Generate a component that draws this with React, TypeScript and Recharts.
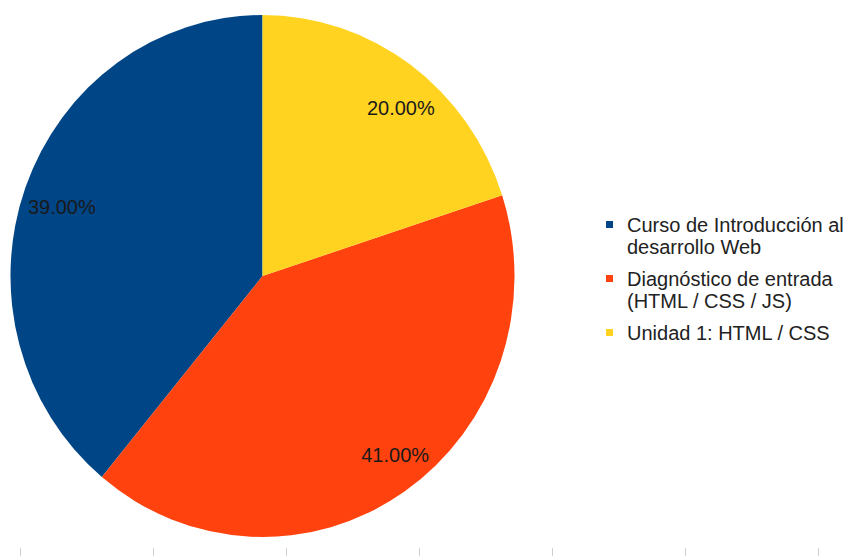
import React from 'react';
import { PieChart, Pie, Cell, Legend } from 'recharts';

// slice data
const categories = [
  'Curso de Introducción al\ndesarrollo Web',
  'Diagnóstico de entrada\n(HTML / CSS / JS)',
  'Unidad 1: HTML / CSS',
];
const values = [39, 41, 20];
const colors = ['#004586', '#ff420e', '#ffd320'];

const data = categories.map((name, i) => ({ name, value: values[i] }));

const FONT = '"Liberation Sans", Arial, sans-serif';
const Y_STRETCH = 1.0357; // the original pie is a touch taller than wide
const RAD = Math.PI / 180;

const renderLabel = (props: any) => {
  const { cx, cy, outerRadius, midAngle, percent } = props;
  const x = cx + outerRadius * 0.88 * Math.cos(-midAngle * RAD) + 8;
  const y = cy + outerRadius * 0.812 * Math.sin(-midAngle * RAD) + 3;
  return (
    <text
      x={x}
      y={y}
      textAnchor="middle"
      dominantBaseline="central"
      fill="#1a1a1a"
      fontSize={20}
      fontFamily={FONT}
    >
      {`${(percent * 100).toFixed(2)}%`}
    </text>
  );
};

const LegendContent = () => (
  <div style={{ fontFamily: FONT, fontSize: 20, lineHeight: '22px', color: '#222' }}>
    {categories.map((name, i) => (
      <div key={i} style={{ display: 'flex', alignItems: 'flex-start', marginBottom: 10 }}>
        <span
          style={{
            width: 7,
            height: 7,
            marginTop: 7,
            marginRight: 14,
            background: colors[i],
            flexShrink: 0,
          }}
        />
        <span style={{ whiteSpace: 'pre' }}>{name}</span>
      </div>
    ))}
  </div>
);

export default function App() {
  return (
    <div
      style={{
        position: 'absolute',
        left: 0,
        top: 0,
        width: 846,
        height: 556,
        overflow: 'hidden',
        background: '#fff',
      }}
    >
      <style>{`.recharts-surface{transform:scaleY(${Y_STRETCH});transform-origin:0 0}`}</style>
      <PieChart width={846} height={556} margin={{ top: 0, right: 0, bottom: 0, left: 0 }}>
        <Pie
          data={data}
          dataKey="value"
          nameKey="name"
          cx={262.5}
          cy={276 / Y_STRETCH}
          outerRadius={252}
          startAngle={90}
          endAngle={450}
          stroke="none"
          label={renderLabel}
          labelLine={false}
          isAnimationActive={false}
        >
          {data.map((d, i) => (
            <Cell key={d.name} fill={colors[i]} />
          ))}
        </Pie>
        <Legend
          layout="vertical"
          align="right"
          verticalAlign="top"
          content={<LegendContent />}
          wrapperStyle={{ position: 'absolute', left: 606, top: 214, width: 240 }}
        />
      </PieChart>
      {/* faint tick marks along the bottom edge of the screenshot */}
      {Array.from({ length: 7 }).map((_, i) => (
        <div
          key={i}
          style={{
            position: 'absolute',
            left: 20 + i * 133,
            top: 548,
            width: 1,
            height: 8,
            background: '#d0d0d0',
          }}
        />
      ))}
    </div>
  );
}
